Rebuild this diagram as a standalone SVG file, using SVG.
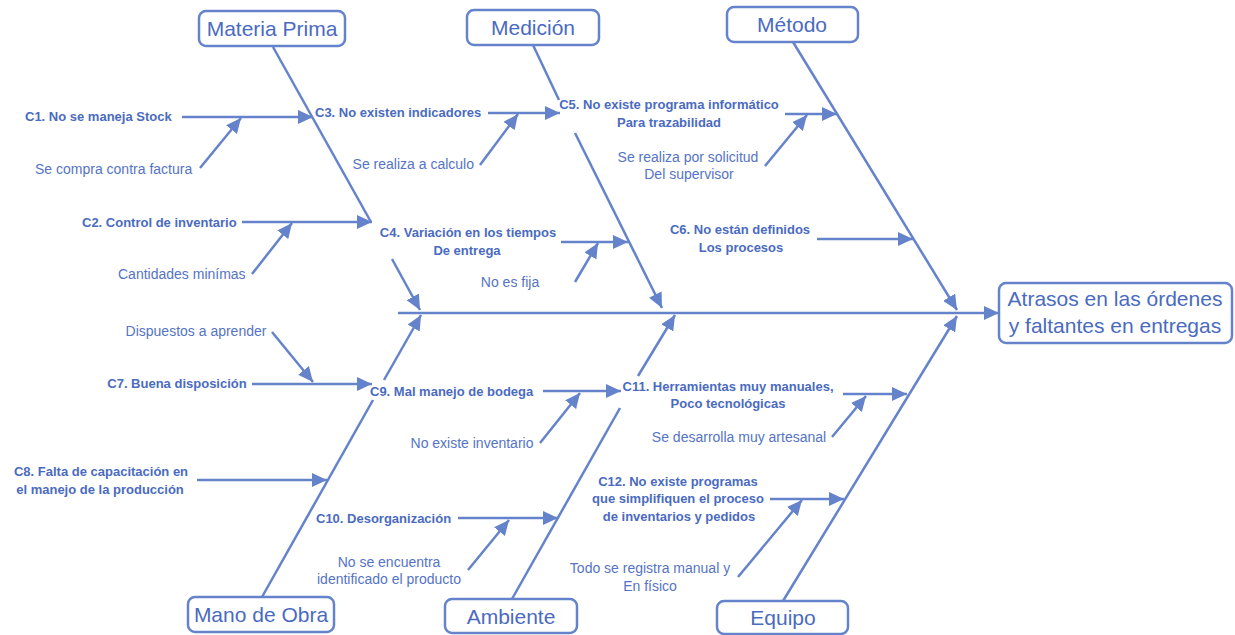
<svg xmlns="http://www.w3.org/2000/svg" width="1235" height="635" viewBox="0 0 1235 635">
<style>
.ln{stroke:#6483CB;stroke-width:2.5;fill:none}
.box{fill:#fff;stroke:#6483CB;stroke-width:2.5}
.bt{font-family:"Liberation Sans",Arial,sans-serif;font-size:21px;fill:#4A6BC0;text-anchor:middle}
.b{font-family:"Liberation Sans",Arial,sans-serif;font-size:13px;font-weight:bold;fill:#4A6BC0}
.r{font-family:"Liberation Sans",Arial,sans-serif;font-size:14px;fill:#5574C4}
.m{text-anchor:middle}
.e{text-anchor:end}
</style>
<defs>
<marker id="ah" markerUnits="userSpaceOnUse" markerWidth="15" markerHeight="14" refX="15" refY="7" orient="auto">
<path d="M0,0 L15,7 L0,14 z" fill="#6483CB"/>
</marker>
</defs>
<g id="connectors">
<line class="ln" x1="398" y1="313" x2="999" y2="313" marker-end="url(#ah)"/>
<line class="ln" x1="273" y1="47" x2="371" y2="222"/>
<line class="ln" x1="392" y1="259" x2="420" y2="310" marker-end="url(#ah)"/>
<line class="ln" x1="533" y1="45" x2="559" y2="100"/>
<line class="ln" x1="575" y1="133" x2="662" y2="308" marker-end="url(#ah)"/>
<line class="ln" x1="793" y1="42" x2="957" y2="310" marker-end="url(#ah)"/>
<line class="ln" x1="262" y1="597" x2="373" y2="400"/>
<line class="ln" x1="384" y1="380" x2="421" y2="315" marker-end="url(#ah)"/>
<line class="ln" x1="512" y1="599" x2="620" y2="408"/>
<line class="ln" x1="638" y1="376" x2="675" y2="315" marker-end="url(#ah)"/>
<line class="ln" x1="783" y1="601" x2="957" y2="316" marker-end="url(#ah)"/>
<line class="ln" x1="182" y1="117" x2="313" y2="117" marker-end="url(#ah)"/>
<line class="ln" x1="200" y1="168" x2="241" y2="118" marker-end="url(#ah)"/>
<line class="ln" x1="242" y1="222" x2="372" y2="222" marker-end="url(#ah)"/>
<line class="ln" x1="252" y1="274" x2="292" y2="223" marker-end="url(#ah)"/>
<line class="ln" x1="488" y1="113" x2="560" y2="113" marker-end="url(#ah)"/>
<line class="ln" x1="480" y1="165" x2="518" y2="114" marker-end="url(#ah)"/>
<line class="ln" x1="561" y1="242" x2="628" y2="242" marker-end="url(#ah)"/>
<line class="ln" x1="575" y1="282" x2="598" y2="243" marker-end="url(#ah)"/>
<line class="ln" x1="785" y1="114" x2="837" y2="114" marker-end="url(#ah)"/>
<line class="ln" x1="765" y1="166" x2="807" y2="115" marker-end="url(#ah)"/>
<line class="ln" x1="817" y1="239" x2="913" y2="239" marker-end="url(#ah)"/>
<line class="ln" x1="252" y1="384" x2="372" y2="384" marker-end="url(#ah)"/>
<line class="ln" x1="272" y1="332" x2="313" y2="382" marker-end="url(#ah)"/>
<line class="ln" x1="197" y1="480" x2="327" y2="480" marker-end="url(#ah)"/>
<line class="ln" x1="543" y1="391" x2="621" y2="391" marker-end="url(#ah)"/>
<line class="ln" x1="540" y1="443" x2="580" y2="393" marker-end="url(#ah)"/>
<line class="ln" x1="458" y1="518" x2="558" y2="518" marker-end="url(#ah)"/>
<line class="ln" x1="468" y1="570" x2="509" y2="520" marker-end="url(#ah)"/>
<line class="ln" x1="843" y1="394" x2="907" y2="394" marker-end="url(#ah)"/>
<line class="ln" x1="832" y1="437" x2="866" y2="396" marker-end="url(#ah)"/>
<line class="ln" x1="770" y1="499" x2="844" y2="499" marker-end="url(#ah)"/>
<line class="ln" x1="738" y1="577" x2="802" y2="500" marker-end="url(#ah)"/>
</g>
<g id="materia-prima"><rect class="box" x="199" y="11" width="146" height="35" rx="7"/><text class="bt" x="272" y="36">Materia Prima</text></g>
<g id="medicion"><rect class="box" x="467" y="10" width="132" height="35" rx="7"/><text class="bt" x="533" y="35">Medición</text></g>
<g id="metodo"><rect class="box" x="727" y="7" width="131" height="35" rx="7"/><text class="bt" x="792" y="32">Método</text></g>
<g id="mano-de-obra"><rect class="box" x="188" y="597" width="146" height="35" rx="7"/><text class="bt" x="261" y="622">Mano de Obra</text></g>
<g id="ambiente"><rect class="box" x="445" y="599" width="132" height="34" rx="7"/><text class="bt" x="511" y="624">Ambiente</text></g>
<g id="equipo"><rect class="box" x="717" y="601" width="131" height="33" rx="7"/><text class="bt" x="783" y="625">Equipo</text></g>
<g id="efecto"><rect class="box" x="999" y="283" width="233" height="60" rx="7"/><text class="bt" x="1115" y="306">Atrasos en las órdenes</text><text class="bt" x="1115" y="333">y faltantes en entregas</text></g>
<g id="c1"><text class="b" x="25" y="121">C1. No se maneja Stock</text><text class="r" x="35" y="174">Se compra contra factura</text></g>
<g id="c2"><text class="b" x="82" y="227">C2. Control de inventario</text><text class="r" x="118" y="279">Cantidades minímas</text></g>
<g id="c3"><text class="b" x="315" y="117">C3. No existen indicadores</text><text class="r e" x="474" y="169">Se realiza a calculo</text></g>
<g id="c4"><text class="b m" x="468" y="237">C4. Variación en los tiempos</text><text class="b m" x="467" y="255">De entrega</text><text class="r m" x="510" y="287">No es fija</text></g>
<g id="c5"><text class="b m" x="669" y="109">C5. No existe programa informático</text><text class="b m" x="669" y="127">Para trazabilidad</text><text class="r m" x="688" y="162">Se realiza por solicitud</text><text class="r m" x="689" y="179">Del supervisor</text></g>
<g id="c6"><text class="b m" x="740" y="234">C6. No están definidos</text><text class="b m" x="741" y="252">Los procesos</text></g>
<g id="c7"><text class="b m" x="177" y="388">C7. Buena disposición</text><text class="r m" x="196" y="336">Dispuestos a aprender</text></g>
<g id="c8"><text class="b m" x="101" y="476">C8. Falta de capacitación en</text><text class="b m" x="100" y="494">el manejo de la producción</text></g>
<g id="c9"><text class="b" x="370" y="396">C9. Mal manejo de bodega</text><text class="r m" x="472" y="448">No existe inventario</text></g>
<g id="c10"><text class="b" x="316" y="523">C10. Desorganización</text><text class="r m" x="389" y="567">No se encuentra</text><text class="r m" x="389" y="584">identificado el producto</text></g>
<g id="c11"><text class="b m" x="728" y="391">C11. Herramientas muy manuales,</text><text class="b m" x="728" y="408">Poco tecnológicas</text><text class="r m" x="739" y="442">Se desarrolla muy artesanal</text></g>
<g id="c12"><text class="b m" x="678" y="486">C12. No existe programas</text><text class="b m" x="678" y="503">que simplifiquen el proceso</text><text class="b m" x="679" y="521">de inventarios y pedidos</text><text class="r m" x="650" y="573">Todo se registra manual y</text><text class="r m" x="650" y="591">En físico</text></g>
</svg>
